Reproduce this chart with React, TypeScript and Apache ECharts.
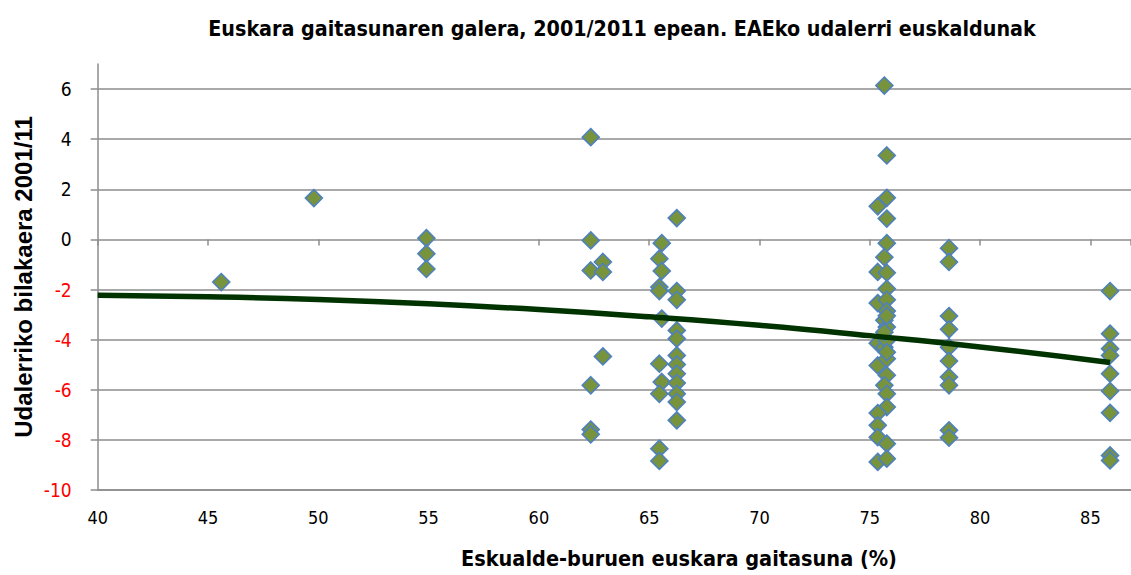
import React, { useEffect, useRef } from "react";
import * as echarts from "echarts";

const titleText = "Euskara gaitasunaren galera, 2001/2011 epean. EAEko udalerri euskaldunak";
const xAxisName = "Eskualde-buruen euskara gaitasuna (%)";
const yAxisName = "Udalerriko bilakaera 2001/11";

// Scatter points (x = eskualde-buruen gaitasuna, y = bilakaera)
const pointX = [
  45.6, 49.8, 54.9, 54.9, 54.9,
  62.35, 62.35, 62.35, 62.35, 62.35, 62.35, 62.9, 62.9, 62.9,
  65.57, 65.46, 65.57, 65.46, 65.46, 65.57, 65.46, 65.57, 65.46, 65.46, 65.46,
  66.25, 66.25, 66.25, 66.25, 66.25, 66.25, 66.25, 66.25, 66.25, 66.25, 66.25, 66.25,
  75.66, 75.77, 75.77, 75.36, 75.77, 75.77, 75.66, 75.36, 75.77, 75.77, 75.36, 75.77,
  75.77, 75.66, 75.77, 75.36, 75.66, 75.77, 75.36, 75.77, 75.77, 75.66, 75.77, 75.77,
  75.36, 75.36, 75.36, 75.77, 75.36, 75.77, 75.77, 75.77, 75.66,
  78.59, 78.59, 78.59, 78.59, 78.59, 78.59, 78.59, 78.59, 78.59, 78.59,
  85.89, 85.89, 85.89, 85.89, 85.89, 85.89, 85.89, 85.89, 85.89,
];
const pointY = [
  -1.7, 1.65, 0.05, -0.57, -1.18,
  4.08, -0.04, -1.24, -5.82, -7.59, -7.78, -0.9, -1.3, -4.67,
  -0.15, -0.77, -1.26, -1.9, -2.06, -3.16, -4.96, -5.69, -6.16, -8.35, -8.84,
  0.85, -2.06, -2.41, -3.63, -3.96, -4.63, -4.99, -5.36, -5.73, -6.16, -6.49, -7.22,
  6.14, 3.35, 1.66, 1.32, 0.83, -0.15, -0.71, -1.3, -1.33, -1.97, -2.54, -2.41,
  -2.86, -3.23, -3.5, -4.14, -4.3, -4.03, -5.03, -4.76, -5.42, -5.82, -6.16, -6.69,
  -6.93, -7.42, -7.89, -8.15, -8.88, -8.75, -3.05, -4.5, -3.7,
  -0.35, -0.9, -3.06, -3.59, -4.3, -4.85, -5.49, -5.82, -7.62, -7.91,
  -2.06, -3.76, -4.36, -4.63, -5.36, -6.05, -6.92, -8.62, -8.82,
];

// Trend line
const trendX = [40, 45, 50, 55, 60, 65, 70, 75, 80, 85.89];
const trendY = [-2.23, -2.29, -2.4, -2.57, -2.8, -3.09, -3.43, -3.84, -4.29, -4.91];

const X_MIN = 40;
const X_MAX = 86.84;
const X_STEP = 5;
const Y_MIN = -10;
const Y_MAX = 7;
const Y_STEP = 2;

const NARROW = "'Liberation Sans Narrow', 'DejaVu Sans Condensed', 'Noto Sans', sans-serif";
const GRID_COLOR = "#8c8c8c";

export default function App() {
  const ref = useRef<HTMLDivElement>(null);
  useEffect(() => {
    if (!ref.current) return;
    const chart = echarts.init(ref.current, null, { renderer: "svg" });
    const scatterData = pointX.map((x, i) => [x, pointY[i]]);
    const trendData = trendX.map((x, i) => [x, trendY[i]]);
    chart.setOption({
      animation: false,
      backgroundColor: "#ffffff",
      grid: [
        { left: 97.7, right: 0, top: 64, bottom: 85, containLabel: false },
        { left: 97.7, right: 0, top: 238.5, height: 1, containLabel: false },
      ],
      xAxis: [
        {
          type: "value",
          gridIndex: 0,
          min: X_MIN,
          max: X_MAX,
          interval: X_STEP,
          axisLine: { onZero: false, show: true, lineStyle: { color: GRID_COLOR, width: 1.5 } },
          axisTick: { show: false },
          splitLine: { show: false },
          axisLabel: {
            margin: 18,
            color: "#000",
            fontSize: 18,
            fontFamily: NARROW,
            showMaxLabel: false,
          },
        },
        {
          type: "value",
          gridIndex: 1,
          min: X_MIN,
          max: X_MAX,
          interval: X_STEP,
          position: "bottom",
          axisLine: { show: false, onZero: false },
          axisTick: { show: true, length: 6, inside: false, lineStyle: { color: GRID_COLOR, width: 1.5 } },
          axisLabel: { show: false },
          splitLine: { show: false },
        },
      ],
      yAxis: [
        {
          type: "value",
          gridIndex: 0,
          min: Y_MIN,
          max: Y_MAX,
          interval: Y_STEP,
          axisLine: { show: true, lineStyle: { color: GRID_COLOR, width: 1.5 } },
          axisTick: { show: true, length: 7, inside: false, lineStyle: { color: GRID_COLOR, width: 1.5 } },
          splitLine: { show: true, showMaxLine: false, lineStyle: { color: GRID_COLOR, width: 1.5 } },
          axisLabel: {
            margin: 26,
            fontSize: 19,
            fontFamily: NARROW,
            showMaxLabel: false,
            color: (v: any) => (Number(v) < 0 ? "#ff0000" : "#000000"),
          },
        },
        {
          type: "value",
          gridIndex: 1,
          min: 0,
          max: 1,
          show: false,
        },
      ],
      series: [
        {
          type: "scatter",
          xAxisIndex: 0,
          yAxisIndex: 0,
          data: scatterData,
          symbol: "diamond",
          symbolSize: 17,
          itemStyle: { color: "#77933c", borderColor: "#4f81bd", borderWidth: 1.6, opacity: 1 },
          z: 3,
        },
        {
          type: "line",
          xAxisIndex: 0,
          yAxisIndex: 0,
          data: trendData,
          smooth: true,
          showSymbol: false,
          symbol: "none",
          lineStyle: { color: "#003300", width: 5.5 },
          z: 4,
        },
      ],
      graphic: [
        {
          type: "text",
          x: 622,
          y: 28,
          style: {
            text: titleText,
            fontSize: 21.3,
            fontWeight: "bold",
            fontFamily: NARROW,
            fill: "#000",
            align: "center",
            verticalAlign: "middle",
          },
        },
        {
          type: "text",
          x: 461,
          y: 558,
          style: {
            text: xAxisName,
            fontSize: 21.5,
            fontWeight: "bold",
            fontFamily: NARROW,
            fill: "#000",
            align: "left",
            verticalAlign: "middle",
          },
        },
        {
          type: "text",
          x: 23,
          y: 277,
          rotation: Math.PI / 2,
          style: {
            text: yAxisName,
            fontSize: 24,
            fontWeight: "bold",
            fontFamily: "'Liberation Sans', 'Noto Sans', sans-serif",
            fill: "#000",
            align: "center",
            verticalAlign: "middle",
          },
        },
      ],
    });
    return () => chart.dispose();
  }, []);
  return (
    <div
      ref={ref}
      style={{ position: "absolute", left: 0, top: 0, width: 1131, height: 575, background: "#fff" }}
    />
  );
}
